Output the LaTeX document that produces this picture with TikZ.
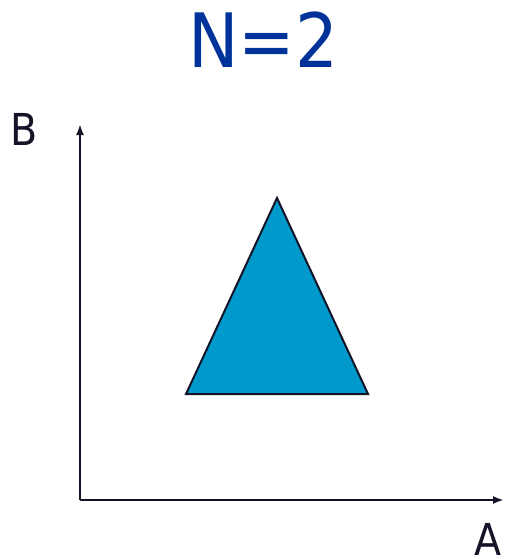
\documentclass[tikz,border=0pt]{standalone}
\usepackage{fontspec}
\setmainfont{DejaVu Sans Condensed}
\usetikzlibrary{arrows.meta,positioning}
\definecolor{TitleBlue}{RGB}{0,51,153}
\definecolor{FillBlue}{RGB}{0,153,204}
\definecolor{AxisColor}{RGB}{20,20,40}

\begin{document}
\begin{tikzpicture}[x=1pt,y=-1pt]
      \useasboundingbox (0,0) rectangle (506,559);
      \tikzset{axislabel/.style={font=\fontsize{44}{44}\selectfont, text=AxisColor, inner sep=0pt, text depth=0pt, text height=32pt, anchor=base}}
      \node[text=TitleBlue, font=\fontsize{75}{75}\selectfont, inner sep=0pt] (title) at (263,40) {N=2};
      \coordinate (origin) at (80,500);
      \coordinate (btip) at (80,124);
      \coordinate (atip) at (504,500);
      \draw[-{Latex[length=11pt,width=8pt]}, line width=2pt, AxisColor] (origin)--(btip);
      \draw[-{Latex[length=11pt,width=8pt]}, line width=2pt, AxisColor] (origin)--(atip);
      \node[axislabel] (labB) at (24,145) {B};
      \node[axislabel] (labA) at (488,555) {A};
      \filldraw[fill=FillBlue, draw=AxisColor, line width=2pt, line join=miter] (277,198)--(186,394)--(368,394)--cycle;
    \end{tikzpicture}
\end{document}
